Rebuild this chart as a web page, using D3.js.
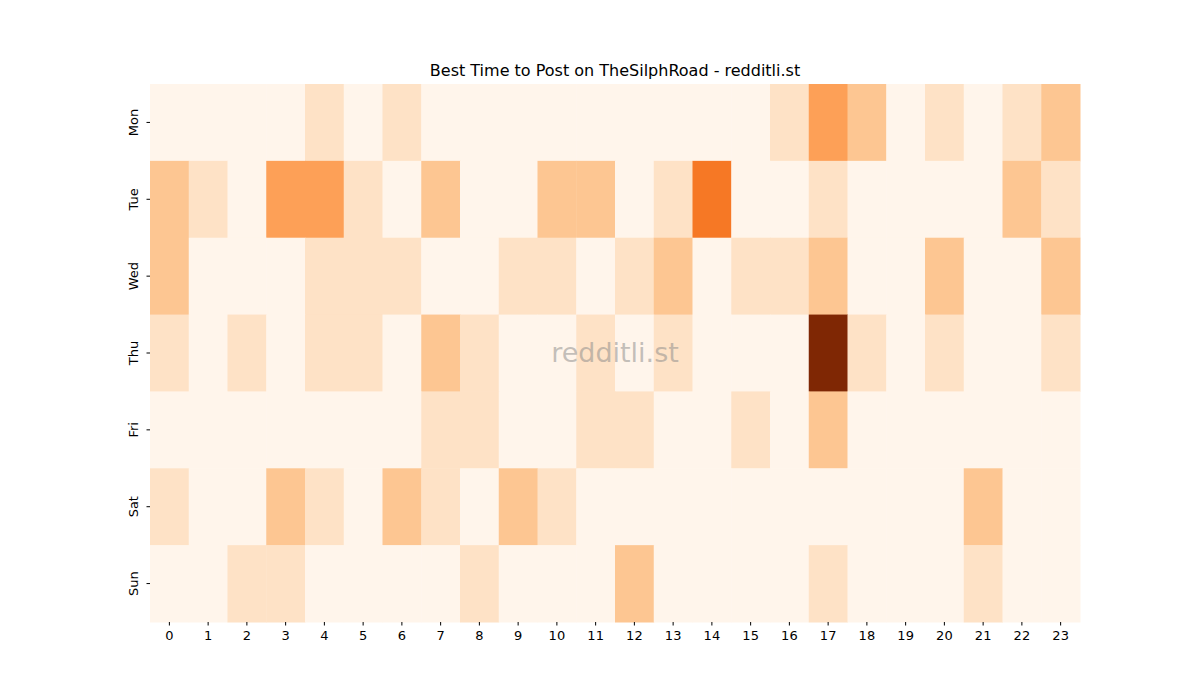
<!DOCTYPE html>
<html>
<head>
<meta charset="utf-8">
<script src="https://cdn.jsdelivr.net/npm/d3@7"></script>
<style>
  body { margin: 0; background: #fff; font-family: "DejaVu Sans", sans-serif; }
</style>
</head>
<body>
<svg id="chart" width="1200" height="700"></svg>
<script>
const days = ["Mon", "Tue", "Wed", "Thu", "Fri", "Sat", "Sun"];
const hours = d3.range(24);
// post counts per hour, one array per day
const mon = [0,0,0,0,1,0,1,0,0,0,0,0,0,0,0,0,1,3,2,0,1,0,1,2];
const tue = [2,1,0,3,3,1,0,2,0,0,2,2,0,1,4,0,0,1,0,0,0,0,2,1];
const wed = [2,0,0,0,1,1,1,0,0,1,1,0,1,2,0,1,1,2,0,0,2,0,0,2];
const thu = [1,0,1,0,1,1,0,2,1,0,0,1,0,1,0,0,0,7,1,0,1,0,0,1];
const fri = [0,0,0,0,0,0,0,1,1,0,0,1,1,0,0,1,0,2,0,0,0,0,0,0];
const sat = [1,0,0,2,1,0,2,1,0,2,1,0,0,0,0,0,0,0,0,0,0,2,0,0];
const sun = [0,0,1,1,0,0,0,0,1,0,0,0,2,0,0,0,0,1,0,0,0,1,0,0];
const counts = [mon, tue, wed, thu, fri, sat, sun];

const margin = { left: 150, right: 120, top: 84, bottom: 78 };
const width = 1200 - margin.left - margin.right;
const height = 700 - margin.top - margin.bottom;

const svg = d3.select("#chart");
const g = svg.append("g").attr("transform", `translate(${margin.left},${margin.top})`);

const x = d3.scaleBand().domain(hours).range([0, width]);
const y = d3.scaleBand().domain(days).range([0, height]);
const max = d3.max(counts.flat());
const color = d3.scaleSequential(d3.interpolateOranges).domain([0, max]);

const cells = counts.flatMap((row, i) => row.map((v, h) => ({ day: days[i], hour: h, v })));

g.selectAll("rect.cell").data(cells).join("rect")
  .attr("class", "cell")
  .attr("x", d => x(d.hour))
  .attr("y", d => y(d.day))
  .attr("width", x.bandwidth() + 0.5)
  .attr("height", y.bandwidth() + 0.5)
  .attr("fill", d => color(d.v));

const xAxis = g.append("g").attr("transform", `translate(0,${height})`)
  .call(d3.axisBottom(x).tickSizeOuter(0).tickSize(3.5).tickPadding(5));
xAxis.select(".domain").remove();
xAxis.selectAll("text").attr("font-size", 13).attr("font-family", "DejaVu Sans").attr("fill", "#000");

const yAxis = g.append("g")
  .call(d3.axisLeft(y).tickSizeOuter(0).tickSize(3.5).tickPadding(5));
yAxis.select(".domain").remove();
yAxis.selectAll("text")
  .attr("font-size", 13).attr("font-family", "DejaVu Sans").attr("fill", "#000")
  .attr("transform", "rotate(-90)")
  .attr("x", 0).attr("y", -17).attr("dy", "0.35em")
  .attr("text-anchor", "middle");

svg.append("text")
  .attr("x", margin.left + width / 2).attr("y", 76)
  .attr("text-anchor", "middle")
  .attr("font-size", 16).attr("font-family", "DejaVu Sans")
  .text("Best Time to Post on TheSilphRoad - redditli.st");

svg.append("text")
  .attr("x", margin.left + width / 2).attr("y", 362)
  .attr("text-anchor", "middle")
  .attr("font-size", 27).attr("font-family", "DejaVu Sans")
  .attr("fill", "#888").attr("fill-opacity", 0.5)
  .text("redditli.st");
</script>
</body>
</html>
